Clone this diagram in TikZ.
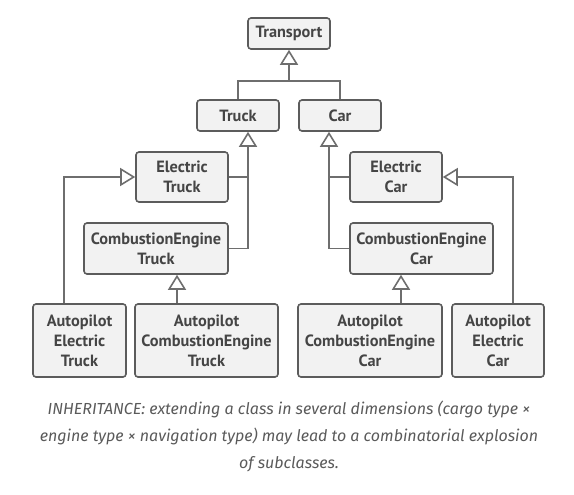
\documentclass[tikz,border=0pt]{standalone}
\usepackage{fontspec}
\setmainfont{PT Sans}
\newfontfamily\capfont{Fira Sans}
\usetikzlibrary{arrows.meta}
\definecolor{boxfill}{HTML}{F2F2F2}
\definecolor{boxdraw}{HTML}{5C5C5C}
\definecolor{linecol}{HTML}{6E6E6E}
\definecolor{txt}{HTML}{454545}
\definecolor{captxt}{HTML}{5A5A5A}
\tikzset{
  cls/.style={draw=boxdraw, fill=boxfill, line width=1.6pt, rounded corners=3pt,
    inner sep=0pt, align=center, text=txt,
    font=\fontsize{16.3}{20}\selectfont\bfseries},
  conn/.style={draw=linecol, line width=1.6pt},
  inh/.style={conn, -{Triangle[open, length=15pt, width=18pt, line width=1.6pt]}},
}
\begin{document}
\begin{tikzpicture}[x=1pt, y=-1pt]
\useasboundingbox (0,0) rectangle (574,495);
\node[cls, minimum width=82pt, minimum height=31pt] (transport) at (289,33.5) {Transport};
\node[cls, minimum width=82pt, minimum height=31pt] (truck) at (238,115.5) {Truck};
\node[cls, minimum width=82pt, minimum height=31pt] (car) at (340,115.5) {Car};
\node[cls, minimum width=92pt, minimum height=50pt] (et) at (182,177) {Electric\\Truck};
\node[cls, minimum width=144pt, minimum height=51pt] (cet) at (156,248.5) {CombustionEngine\\Truck};
\node[cls, minimum width=92pt, minimum height=50pt] (ec) at (396,177) {Electric\\Car};
\node[cls, minimum width=143pt, minimum height=51pt] (cec) at (421.5,248.5) {CombustionEngine\\Car};
\node[cls, minimum width=93pt, minimum height=73pt] (aet) at (79.5,340.5) {Autopilot\\Electric\\Truck};
\node[cls, minimum width=143pt, minimum height=73pt] (acet) at (206.5,340.5) {Autopilot\\CombustionEngine\\Truck};
\node[cls, minimum width=144pt, minimum height=73pt] (acec) at (370,340.5) {Autopilot\\CombustionEngine\\Car};
\node[cls, minimum width=92pt, minimum height=73pt] (aec) at (498,340.5) {Autopilot\\Electric\\Car};

% Transport hierarchy
\coordinate (j) at (289,81);
\draw[conn] (truck.north) |- (j);
\draw[conn] (car.north) |- (j);
\draw[inh] (j) -- (transport.south);

% Truck subclasses
\coordinate (tr) at ([xshift=10pt]truck.south);
\draw[inh] (cet.east) -| (tr);
\draw[conn] (et.east) -- (et.east -| tr);

% Car subclasses
\coordinate (cr) at ([xshift=-11pt]car.south);
\draw[inh] (cec.west) -| (cr);
\draw[conn] (ec.west) -- (ec.west -| cr);

% Autopilot electric
\coordinate (p1) at ([xshift=-15.5pt]aet.north);
\draw[inh] (p1) |- (et.west);
\coordinate (p2) at ([xshift=15pt]aec.north);
\draw[inh] (p2) |- (ec.east);

% Autopilot combustion
\coordinate (p3) at ([xshift=-29.5pt]acet.north);
\draw[inh] (p3) -- (p3 |- cet.south);
\coordinate (p4) at ([xshift=31pt]acec.north);
\draw[inh] (p4) -- (p4 |- cec.south);

\node[align=center, text=captxt, font=\capfont\fontsize{16}{27}\selectfont\itshape] (cap) at (289,436)
 {INHERITANCE: extending a class in several dimensions (cargo type ×\\
  engine type × navigation type) may lead to a combinatorial explosion\\
  of subclasses.};
\end{tikzpicture}
\end{document}
